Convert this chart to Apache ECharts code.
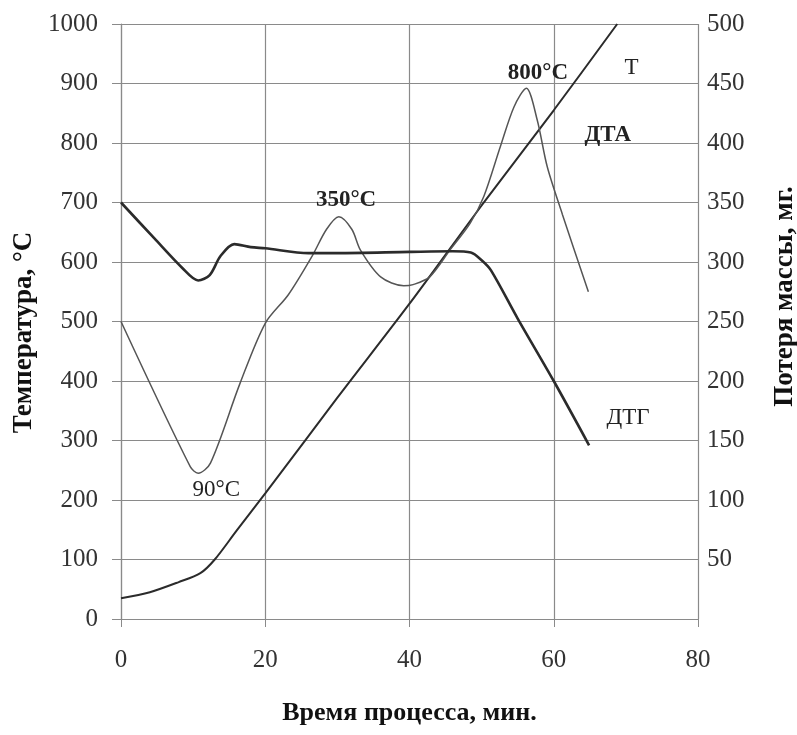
<!DOCTYPE html>
<html>
<head>
<meta charset="utf-8">
<script src="https://cdn.jsdelivr.net/npm/echarts@6/dist/echarts.min.js"></script>
<style>
  html, body { margin: 0; padding: 0; background: #fff; }
  #chart { width: 797px; height: 735px; }
</style>
</head>
<body>
<div id="chart"></div>
<script>
// T - температура
var tX = [0, 4, 8, 11, 13, 16, 20, 30, 40, 50, 60, 68.8];
var tY = [35, 45, 62, 77, 100, 148, 211, 372, 530, 695, 855, 1000];
// ДТА
var dtaX = [0, 9.6, 10.7, 12.4, 16.5, 20, 23.2, 26.5, 28.5, 30.2, 32, 33.2, 36, 39.2, 40.5, 42.8, 45.6, 48.4, 50.3, 52.6, 54.5, 56.2, 57.7, 59.1, 61.2, 64.8];
var dtaY = [500, 256, 245, 262, 396, 497, 545, 610, 655, 676, 655, 620, 575, 560, 562, 575, 620, 665, 710, 794, 861, 892, 839, 760, 680, 550];
// ДТГ
var dtgX = [0, 4.6, 8.5, 10.7, 12.3, 13.8, 15.7, 18, 20, 26, 30, 40, 46, 48.5, 50, 51.3, 55, 60, 64.9];
var dtgY = [700, 640, 590, 569, 578, 610, 630, 625, 623, 615, 615, 617, 618, 616, 603, 586, 505, 400, 292];

function pairs(xs, ys) {
    var arr = [];
    for (var i = 0; i < xs.length; i++) {
        arr.push([xs[i], ys[i]]);
    }
    return arr;
}

var serif = '"Liberation Serif", "DejaVu Serif", serif';
var gridColor = '#8a8a8a';

function note(text, coord, bold) {
    return {
        coord: coord,
        symbol: 'circle',
        symbolSize: 1,
        itemStyle: { color: 'rgba(0,0,0,0)' },
        label: {
            show: true,
            position: 'inside',
            formatter: text,
            fontFamily: serif,
            fontSize: 23,
            fontWeight: bold ? 'bold' : 'normal',
            color: '#222'
        }
    };
}

var chart = echarts.init(document.getElementById('chart'));

var option = {
    animation: false,
    grid: { left: 121, right: 99, top: 24, bottom: 116, outerBoundsMode: 'none' },
    xAxis: {
        type: 'value',
        min: 0, max: 80, interval: 20,
        name: 'Время процесса, мин.',
        nameLocation: 'middle',
        nameGap: 81,
        nameTextStyle: { fontFamily: serif, fontSize: 26, fontWeight: 'bold', color: '#111' },
        axisLine: { show: true, lineStyle: { color: gridColor, width: 1.2 } },
        axisTick: { show: true, length: 8, lineStyle: { color: gridColor } },
        axisLabel: { margin: 29, fontFamily: serif, fontSize: 25, color: '#333' },
        splitLine: { show: true, lineStyle: { color: gridColor, width: 1.2 } }
    },
    yAxis: [{
        type: 'value',
        min: 0, max: 1000, interval: 100,
        name: 'Температура, °C',
        nameLocation: 'middle',
        nameRotate: 90,
        nameGap: 82,
        nameTextStyle: {
            fontFamily: serif, fontSize: 27, fontWeight: 'bold', color: '#111',
            padding: [0, 22, 0, 0]
        },
        axisLine: { show: true, lineStyle: { color: gridColor, width: 1.2 } },
        axisTick: { show: true, length: 9, lineStyle: { color: gridColor } },
        axisLabel: {
            margin: 23, fontFamily: serif, fontSize: 25, color: '#333',
            formatter: function (v) { return String(v); }
        },
        splitLine: { show: true, lineStyle: { color: gridColor, width: 1.2 } }
    }, {
        type: 'value',
        min: 0, max: 500, interval: 50,
        position: 'right',
        name: 'Потеря массы, мг.',
        nameLocation: 'middle',
        nameRotate: 90,
        nameGap: 74,
        nameTextStyle: {
            fontFamily: serif, fontSize: 27, fontWeight: 'bold', color: '#111',
            padding: [0, 0, 0, 50]
        },
        axisLine: { show: false },
        axisTick: { show: false },
        axisLabel: {
            margin: 9, fontFamily: serif, fontSize: 25, color: '#333',
            formatter: function (v) { return v === 0 ? '' : String(v); }
        },
        splitLine: { show: false }
    }],
    series: [{
        name: 'T',
        type: 'line',
        data: pairs(tX, tY),
        smooth: 0.3,
        showSymbol: false,
        lineStyle: { color: '#2b2b2b', width: 2 },
        markPoint: {
            data: [
                note('T', [70.8, 926], false)
            ]
        }
    }, {
        name: 'ДТА',
        type: 'line',
        data: pairs(dtaX, dtaY),
        smooth: 0.3,
        showSymbol: false,
        lineStyle: { color: '#555', width: 1.5 },
        markPoint: {
            data: [
                note('350°C', [31.2, 704], true),
                note('800°C', [57.8, 918], true),
                note('90°C', [13.2, 217], false),
                note('ДТА', [67.5, 813], true)
            ]
        }
    }, {
        name: 'ДТГ',
        type: 'line',
        data: pairs(dtgX, dtgY),
        smooth: 0.3,
        showSymbol: false,
        lineStyle: { color: '#2b2b2b', width: 2.6 },
        markPoint: {
            data: [
                note('ДТГ', [70.3, 338], false)
            ]
        }
    }]
};

chart.setOption(option);
</script>
</body>
</html>
